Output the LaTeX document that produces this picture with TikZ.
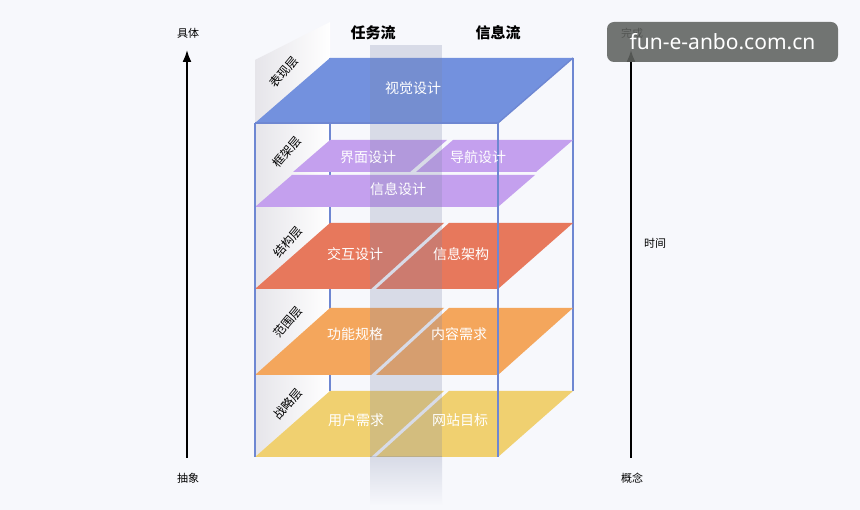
\documentclass[tikz,border=0pt]{standalone}
\usepackage{fontspec}
\setmainfont{Noto Sans CJK SC}
\newfontfamily\wmfont{Noto Sans}
\usepackage{tikz}
\usetikzlibrary{positioning, arrows.meta}

\definecolor{bgcol}{RGB}{247,248,252}
\definecolor{edgecol}{RGB}{110,135,210}
\definecolor{bluecol}{RGB}{115,145,222}
\definecolor{purplecol}{RGB}{196,160,238}
\definecolor{redcol}{RGB}{231,120,92}
\definecolor{orangecol}{RGB}{244,166,92}
\definecolor{yellowcol}{RGB}{240,208,112}
\definecolor{stripcol}{RGB}{125,135,170}
\definecolor{sidecol}{RGB}{230,229,234}
\definecolor{wmcol}{RGB}{95,98,95}

\tikzset{
  planetext/.style={text=white, font=\fontsize{14}{14}\selectfont},
  layerlabel/.style={rotate=50, font=\fontsize{12}{12}\selectfont},
  headtext/.style={font=\fontsize{15}{15}\selectfont\bfseries},
  sidetext/.style={font=\fontsize{11}{11}\selectfont},
  boxline/.style={draw=edgecol, line width=1.4},
  axisarrow/.style={-{Latex[length=12pt,width=9pt]}, line width=1.8}
}

\begin{document}
\begin{tikzpicture}[x=1pt, y=-1pt]
			%% Fundo
			\fill[bgcol] (0,0) rectangle (860,510);
			\useasboundingbox (0,0) rectangle (860,510);

			%% Face lateral
			\shade[shading angle=130, left color=sidecol, right color=white]
				(255,457) -- (255,60) -- (330,22) -- (330,391) -- cycle;

			%% Arestas de tras
			\draw[boxline] (330,58) -- (330,391);
			\draw[boxline] (573,58) -- (573,391);

			%% Estrategia
			\fill[yellowcol] (255,457) -- (371,457) -- (444,391) -- (330,391) -- cycle;
			\fill[yellowcol] (376,457) -- (498,457) -- (573,391) -- (449,391) -- cycle;

			%% Escopo
			\fill[orangecol] (255,375) -- (371,375) -- (444,308) -- (330,308) -- cycle;
			\fill[orangecol] (376,375) -- (498,375) -- (573,308) -- (449,308) -- cycle;

			%% Estrutura
			\fill[redcol] (255,289) -- (371,289) -- (444,223) -- (330,223) -- cycle;
			\fill[redcol] (376,289) -- (498,289) -- (573,223) -- (449,223) -- cycle;

			%% Esqueleto
			\fill[purplecol] (255,207) -- (498,207) -- (535,175) -- (292,175) -- cycle;
			\fill[purplecol] (293,172) -- (410,172) -- (447,140) -- (330,140) -- cycle;
			\fill[purplecol] (416,172) -- (536,172) -- (573,140) -- (453,140) -- cycle;

			%% Superficie
			\fill[bluecol] (255,123) -- (498,123) -- (573,58) -- (330,58) -- cycle;

			%% Faixa central
			\fill[stripcol, opacity=0.25] (370,45) rectangle (442,457);
			\shade[top color=stripcol, bottom color=bgcol, opacity=0.25]
				(370,457) rectangle (442,505);

			%% Arestas da frente
			\draw[boxline] (255,123) -- (498,123);
			\draw[boxline] (255,123) -- (255,457);
			\draw[boxline] (498,123) -- (498,457);
			\draw[boxline] (498,123) -- (573,58);

			%% Textos dos planos
			\node[planetext] (visual) at (413,88) {视觉设计};
			\node[planetext] (interface) at (368,157) {界面设计};
			\node[planetext] (navigation) at (478,157) {导航设计};
			\node[planetext] (infodesign) at (398,189) {信息设计};
			\node[planetext] (interaction) at (355,254) {交互设计};
			\node[planetext] (infoarch) at (461,254) {信息架构};
			\node[planetext] (function) at (355,334) {功能规格};
			\node[planetext] (content) at (459,334) {内容需求};
			\node[planetext] (userneed) at (356,420) {用户需求};
			\node[planetext] (sitegoal) at (460,420) {网站目标};

			%% Camadas
			\node[layerlabel] (surface) at (284,72) {表现层};
			\node[layerlabel] (skeleton) at (287,152) {框架层};
			\node[layerlabel] (structure) at (288,242) {结构层};
			\node[layerlabel] (scope) at (288,322) {范围层};
			\node[layerlabel] (strategy) at (288,404) {战略层};

			%% Fluxos
			\node[headtext] (taskflow) at (373,33) {任务流};
			\node[headtext] (infoflow) at (498,33) {信息流};

			%% Eixo esquerdo
			\node[sidetext] (concrete) at (188,33) {具体};
			\node[sidetext] (abstract) at (188,478) {抽象};
			\coordinate (lbot) at (187,458);
			\coordinate (ltop) at (187,50);
			\draw[axisarrow] (lbot) -- (ltop);

			%% Eixo direito
			\node[sidetext] (done) at (632,33) {完成};
			\node[sidetext] (time) at (655,243) {时间};
			\node[sidetext] (concept) at (632,478) {概念};
			\coordinate (rbot) at (631,458);
			\coordinate (rtop) at (631,50);
			\draw[axisarrow] (rbot) -- (rtop);

			%% Marca
			\node[fill=wmcol, fill opacity=0.88, text opacity=1, text=white,
				rounded corners=7pt, minimum width=231pt, minimum height=40pt,
				font=\wmfont\fontsize{21}{21}\selectfont] (mark) at (722.5,42)
				{fun-e-anbo.com.cn};
		\end{tikzpicture}
\end{document}
